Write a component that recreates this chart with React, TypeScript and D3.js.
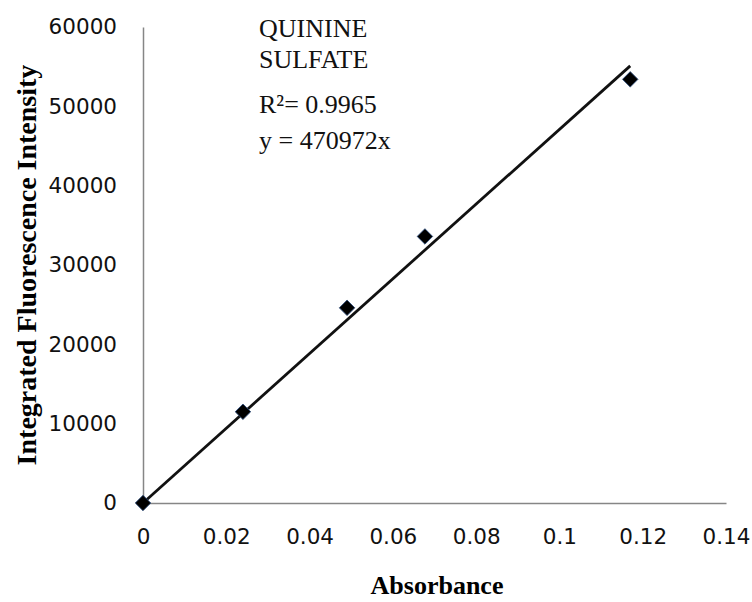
import * as d3 from "d3";
import React, { useEffect, useRef } from "react";

// DATA
const absorbance = [0, 0.024, 0.049, 0.0677, 0.117];
const intensity = [0, 11500, 24600, 33600, 53400];
const slope = 470972;
const xTicks = [0, 0.02, 0.04, 0.06, 0.08, 0.1, 0.12, 0.14];
const yTicks = [0, 10000, 20000, 30000, 40000, 50000, 60000];
const noteLines = ["QUININE", "SULFATE", "R²= 0.9965", "y = 470972x"];

export default function App() {
  const svgRef = useRef<SVGSVGElement>(null);
  const width = 752;
  const height = 602;
  const margin = { top: 27, right: 26, bottom: 99, left: 143 };

  useEffect(() => {
    const svgEl = d3.select(svgRef.current);
    svgEl.selectAll("*").remove();

    const x_scale = d3
      .scaleLinear()
      .domain([0, 0.14])
      .range([margin.left, width - margin.right]);
    const y_scale = d3
      .scaleLinear()
      .domain([0, 60000])
      .range([height - margin.bottom, margin.top]);

    const axisColor = "#868686";
    const tickFont = "DejaVu Sans, Verdana, sans-serif";
    const serif = "Liberation Serif, Times New Roman, serif";

    /* X AXIS */
    const gx = svgEl
      .append("g")
      .attr("transform", "translate(0," + y_scale(0) + ")")
      .call(
        d3
          .axisBottom(x_scale)
          .tickValues(xTicks)
          .tickSize(0)
          .tickPadding(26)
          .tickFormat((d) => String(d))
      );
    gx.select(".domain").attr("stroke", axisColor).attr("stroke-width", 1.5);
    gx.selectAll("text")
      .attr("font-family", tickFont)
      .attr("font-size", 21.5)
      .attr("fill", "#111");

    /* Y AXIS */
    const gy = svgEl
      .append("g")
      .attr("transform", "translate(" + x_scale(0) + ",0)")
      .call(
        d3
          .axisLeft(y_scale)
          .tickValues(yTicks)
          .tickSize(0)
          .tickPadding(26)
          .tickFormat((d) => String(d))
      );
    gy.select(".domain").attr("stroke", axisColor).attr("stroke-width", 1.5);
    gy.selectAll("text")
      .attr("font-family", tickFont)
      .attr("font-size", 21.5)
      .attr("fill", "#111");

    // trendline through the origin, out to the last point
    const lastX = d3.max(absorbance) as number;
    svgEl
      .append("path")
      .datum([0, lastX])
      .attr("fill", "none")
      .attr("stroke", "#111")
      .attr("stroke-width", 2.8)
      .attr(
        "d",
        d3
          .line<number>()
          .x((d) => x_scale(d))
          .y((d) => y_scale(slope * d))
      );

    // diamonds
    svgEl
      .append("g")
      .selectAll("path")
      .data(absorbance)
      .join("path")
      .attr(
        "transform",
        (d, i) =>
          "translate(" + x_scale(d) + "," + y_scale(intensity[i]) + ") rotate(45)"
      )
      .attr("d", d3.symbol().type(d3.symbolSquare).size(120)())
      .attr("fill", "#000")
      .attr("stroke", "#2b4a7a")
      .attr("stroke-width", 0.8);

    // annotation
    svgEl
      .append("g")
      .selectAll("text")
      .data(noteLines)
      .join("text")
      .attr("x", 259)
      .attr("y", (d, i) => [37, 68, 113, 149][i])
      .attr("font-family", serif)
      .attr("font-size", 26)
      .attr("fill", "#111")
      .text((d) => d);

    // axis titles
    svgEl
      .append("text")
      .attr("x", 437)
      .attr("y", 594)
      .attr("text-anchor", "middle")
      .attr("font-family", serif)
      .attr("font-weight", "bold")
      .attr("font-size", 26)
      .text("Absorbance");

    svgEl
      .append("text")
      .attr("transform", "translate(36," + 265 + ") rotate(-90)")
      .attr("text-anchor", "middle")
      .attr("font-family", serif)
      .attr("font-weight", "bold")
      .attr("font-size", 28)
      .text("Integrated Fluorescence Intensity");
  }, []);

  return (
    <svg
      ref={svgRef}
      width={width}
      height={height}
      style={{ position: "absolute", left: 0, top: 0, background: "#fff" }}
    ></svg>
  );
}
